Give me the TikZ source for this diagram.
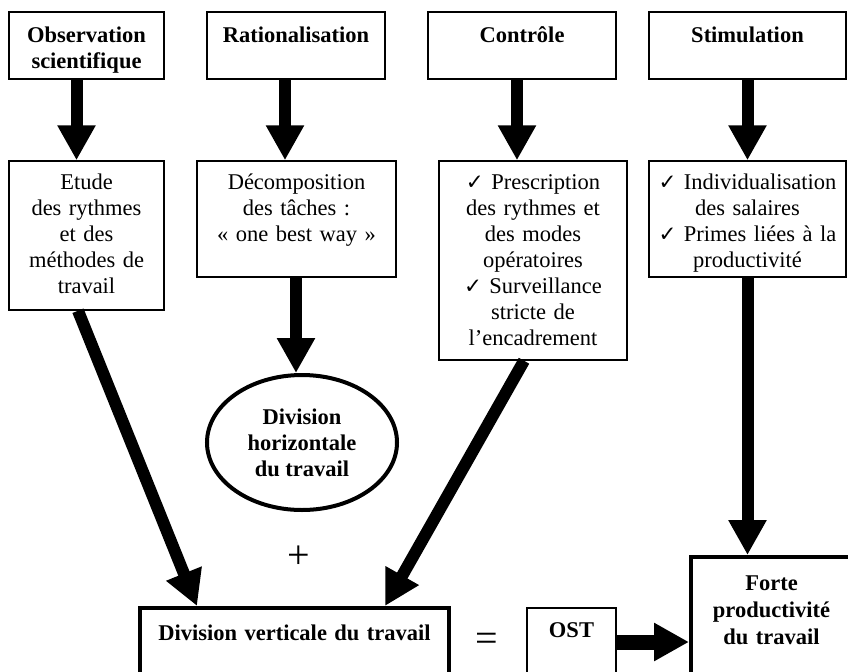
\documentclass[tikz,border=0pt]{standalone}
\usepackage{fontspec}
\setmainfont{Liberation Serif}
\newfontfamily\symfont{DejaVu Sans}[Scale=0.95]
\usetikzlibrary{arrows.meta,shapes.geometric}
\newcommand{\coche}{{\symfont ✓}}

\begin{document}
\begin{tikzpicture}[x=0.5pt,y=-0.5pt,
  cadre/.style={draw,line width=0.75pt,inner sep=0pt,align=center,
    font=\fontsize{11.25}{13}\selectfont,text height=14pt},
  titre/.style={cadre,font=\fontsize{11.25}{13}\selectfont\bfseries,
    text height=15pt,text depth=18.5pt},
  bilan/.style={cadre,line width=2pt,font=\fontsize{11.25}{13.5}\selectfont\bfseries,anchor=north},
  signe/.style={font=\fontsize{20}{24}\selectfont},
  fleche/.style={-{Triangle[length=17.5pt,width=18pt]},line width=6pt}]
\useasboundingbox (0,0) rectangle (848,671);
\clip (0,0) rectangle (848,671);
% ---------------- en-tetes ----------------
\node[titre,text width=77.5pt] (obs) at (86.5,45.5) {Observation\\scientifique};
\node[titre,text width=89pt] (rat) at (296,45.5) {Rationalisation};
\node[titre,text width=94pt] (con) at (522,45.5) {Contrôle};
\node[titre,text width=98.5pt] (sti) at (747.5,45.5) {Stimulation};
% ---------------- deuxieme rangee ----------------
\node[cadre,text width=77.5pt,text depth=60.5pt] (etu) at (86.5,235.5)
  {Etude\\des rythmes\\et des\\méthodes de\\travail};
\node[cadre,text width=99.5pt,text depth=44pt] (dec) at (296.5,219)
  {Décomposition\\des tâches :\\« one best way »};
\node[cadre,text width=94pt,text depth=85.5pt] (pre) at (533,260.5)
  {\coche{} Prescription\\des rythmes et\\des modes\\opératoires\\\coche{} Surveillance\\stricte de\\l’encadrement};
\node[cadre,text width=98.5pt,text depth=44pt] (ind) at (747.5,219)
  {\coche{} Individualisation\\des salaires\\\coche{} Primes liées à la\\productivité};
\node[ellipse,draw,line width=2pt,minimum width=95pt,minimum height=67.5pt,inner sep=0pt,
  align=center,font=\fontsize{11.25}{13}\selectfont\bfseries] (hor) at (302,442.5)
  {Division\\horizontale\\du travail};
% ---------------- bas ----------------
\node[signe] (plus) at (299,557) {+};
\node[signe] (egal) at (487,642) {=};
\node[bilan,text width=154.5pt,text height=16pt,text depth=40pt] (div) at (294.5,606)
  {Division verticale du travail};
\node[cadre,anchor=north,font=\fontsize{11.25}{13}\selectfont\bfseries,
  text width=44.5pt,text height=15pt,text depth=40pt] (ost) at (571.5,607) {OST};
\node[bilan,text width=80.5pt,text height=16.5pt,text depth=60pt] (for) at (771.5,555)
  {Forte\\productivité\\du travail};
% ---------------- fleches ----------------
\draw[fleche] ([xshift=-5pt]obs.south) -- ([xshift=-5pt]etu.north);
\draw[fleche] ([xshift=-5.5pt]rat.south) -- ([xshift=-5.75pt]dec.north);
\draw[fleche] ([xshift=-2.5pt]con.south) -- ([xshift=-8pt]pre.north);
\draw[fleche] (sti.south) -- (ind.north);
\draw[fleche] ([xshift=-0.25pt]dec.south) -- ([xshift=-3pt]hor.north);
\draw[fleche] ([xshift=-4.25pt]etu.south) -- ([xshift=-48.75pt]div.north);
\draw[fleche] ([xshift=-4.5pt]pre.south) -- ([xshift=45.25pt]div.north);
\draw[fleche] (ind.south) -- (ind.south |- for.north);
\draw[fleche,line width=7.5pt] (ost.east |- egal) -- (for.west |- egal);
\end{tikzpicture}
\end{document}
